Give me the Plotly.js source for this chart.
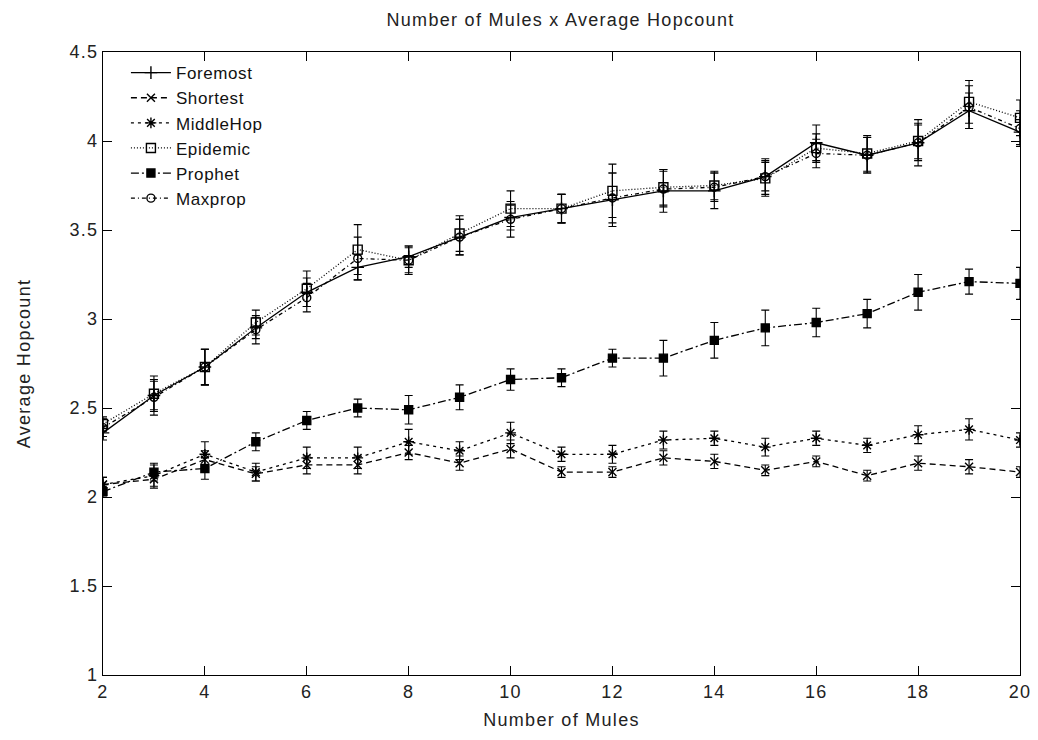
<!DOCTYPE html>
<html><head><meta charset="utf-8">
<script src="https://cdn.plot.ly/plotly-3.0.1.min.js"></script>
<style>html,body{margin:0;padding:0;background:#fff}#chart{width:1038px;height:740px}
#chart text{letter-spacing:1.3px}
#chart .legendtext{letter-spacing:0.6px}</style>
</head><body><div id="chart"></div>
<script>
const mules = [2,3,4,5,6,7,8,9,10,11,12,13,14,15,16,17,18,19,20];
const foremost = [2.36,2.57,2.73,2.95,3.15,3.29,3.35,3.46,3.57,3.62,3.67,3.72,3.72,3.80,3.99,3.92,3.99,4.17,4.05];
const foremostErr = [0.04,0.08,0.10,0.06,0.08,0.07,0.06,0.10,0.07,0.08,0.15,0.12,0.10,0.08,0.10,0.10,0.13,0.10,0.07];
const shortest = [2.07,2.10,2.21,2.13,2.18,2.18,2.25,2.19,2.27,2.14,2.14,2.22,2.20,2.15,2.20,2.12,2.19,2.17,2.14];
const shortestErr = [0.04,0.05,0.05,0.04,0.05,0.05,0.04,0.04,0.05,0.03,0.03,0.04,0.04,0.03,0.03,0.03,0.04,0.04,0.03];
const middleHop = [2.07,2.12,2.24,2.14,2.22,2.22,2.31,2.26,2.36,2.24,2.24,2.32,2.33,2.28,2.33,2.29,2.35,2.38,2.32];
const middleHopErr = [0.04,0.06,0.07,0.05,0.06,0.06,0.07,0.05,0.06,0.04,0.05,0.05,0.04,0.05,0.04,0.04,0.05,0.06,0.04];
const epidemic = [2.41,2.58,2.73,2.98,3.17,3.39,3.33,3.48,3.62,3.62,3.72,3.74,3.75,3.79,3.96,3.93,4.00,4.22,4.13];
const epidemicErr = [0.04,0.10,0.10,0.07,0.10,0.14,0.08,0.10,0.10,0.08,0.15,0.10,0.08,0.10,0.08,0.10,0.10,0.12,0.10];
const prophet = [2.03,2.14,2.16,2.31,2.43,2.50,2.49,2.56,2.66,2.67,2.78,2.78,2.88,2.95,2.98,3.03,3.15,3.21,3.20];
const prophetErr = [0.03,0.05,0.06,0.05,0.05,0.05,0.08,0.07,0.06,0.05,0.05,0.10,0.10,0.10,0.08,0.08,0.10,0.07,0.09];
const maxprop = [2.39,2.56,2.73,2.94,3.12,3.34,3.33,3.46,3.56,3.62,3.68,3.73,3.74,3.80,3.93,3.92,3.99,4.19,4.07];
const maxpropErr = [0.05,0.10,0.10,0.08,0.08,0.12,0.07,0.10,0.10,0.08,0.14,0.10,0.08,0.10,0.08,0.10,0.10,0.12,0.10];

function series(name, y, err, symbol, dash, msize) {
  return {
    x: mules, y: y, name: name, type: 'scatter', mode: 'lines+markers',
    line: {color: '#000', width: 1.3, dash: dash},
    marker: {symbol: symbol, size: msize, color: '#000', line: {color: '#000', width: 1.4}},
    error_y: {type: 'data', array: err, visible: true, color: '#000', thickness: 1.1, width: 4}
  };
}
const data = [
  series('Foremost', foremost, foremostErr, 'cross-thin-open', 'solid', 9),
  series('Shortest', shortest, shortestErr, 'x-thin-open', '6px,4px', 8),
  series('MiddleHop', middleHop, middleHopErr, 'asterisk-open', '3px,4px', 9),
  series('Epidemic', epidemic, epidemicErr, 'square-open', '1px,2px', 9),
  series('Prophet', prophet, prophetErr, 'square', '8px,3px,2px,3px', 8),
  series('Maxprop', maxprop, maxpropErr, 'circle-open', '4px,3px,1px,3px', 8)
];
const fam = 'Liberation Sans, Arial, sans-serif';
const layout = {
  width: 1038, height: 740,
  margin: {l: 103, r: 18, t: 52, b: 65},
  paper_bgcolor: '#fff', plot_bgcolor: '#fff',
  font: {family: fam, color: '#222', size: 18},
  title: {text: 'Number of Mules x Average Hopcount', x: 0.54, xanchor: 'center', y: 0.973, yanchor: 'middle', font: {size: 18, color: '#222', family: fam}},
  xaxis: {range: [2, 20], dtick: 2, tick0: 2, ticks: 'inside', ticklen: 9, tickcolor: '#000',
    showline: true, linecolor: '#000', linewidth: 1, mirror: 'ticks', showgrid: false, zeroline: false,
    title: {text: 'Number of Mules', standoff: 12, font: {size: 18}}, tickfont: {size: 18}},
  yaxis: {range: [1, 4.5], dtick: 0.5, tick0: 1, ticks: 'inside', ticklen: 9, tickcolor: '#000',
    showline: true, linecolor: '#000', linewidth: 1, mirror: 'ticks', showgrid: false, zeroline: false,
    title: {text: 'Average Hopcount', standoff: 38, font: {size: 18}}, tickfont: {size: 18}},
  showlegend: true,
  legend: {x: 0.025, y: 0.995, xanchor: 'left', yanchor: 'top', bgcolor: 'rgba(0,0,0,0)',
    font: {size: 17, color: '#111'}, tracegroupgap: 0, itemwidth: 40, entrywidth: 140},
};
Plotly.newPlot('chart', data, layout, {displayModeBar: false, staticPlot: true});
</script></body></html>
